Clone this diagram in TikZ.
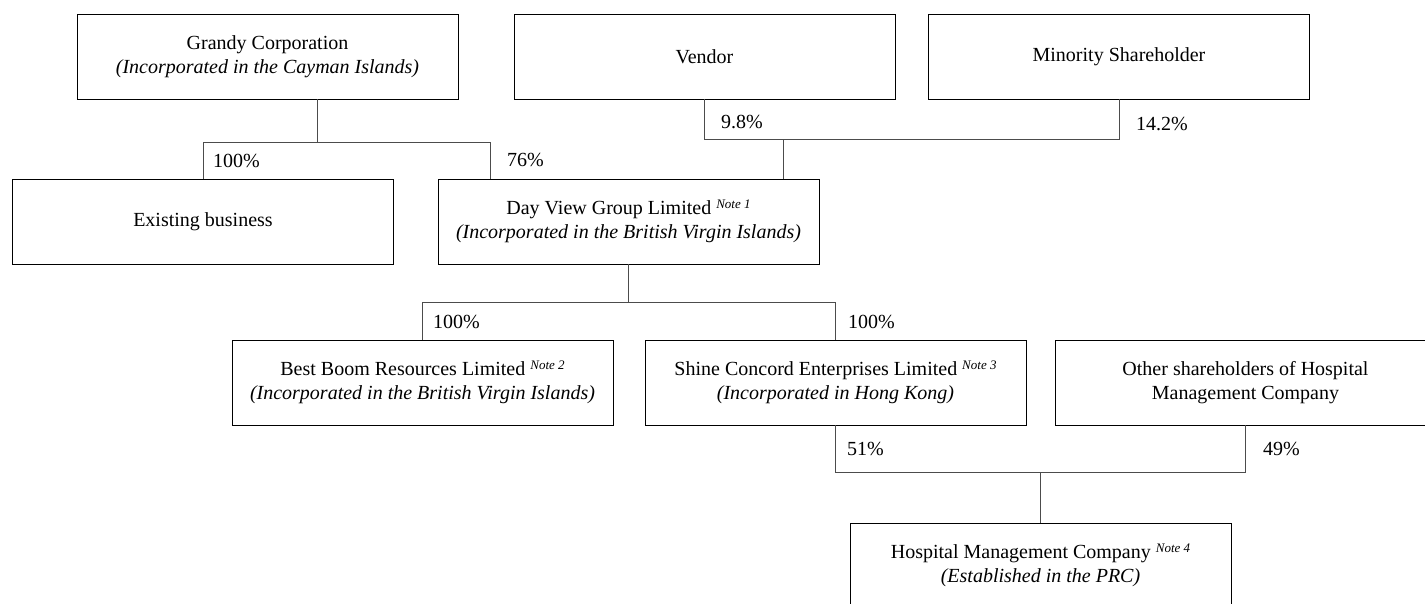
\documentclass[tikz,border=0pt]{standalone}
\usepackage{fontspec}
\setmainfont{Liberation Serif}
\usepackage{tikz}
\usetikzlibrary{positioning}

\newcommand{\notemark}[1]{\raisebox{6pt}{\fontsize{13}{13}\selectfont\itshape Note #1}}

\begin{document}
\begin{tikzpicture}[x=1pt,y=-1pt,
  company/.style={draw=black,line width=0.9pt,rectangle,minimum width=381pt,
    minimum height=85pt,align=center,inner sep=0pt,font=\fontsize{20}{24}\selectfont},
  share/.style={anchor=west,inner sep=0pt,font=\fontsize{20}{24}\selectfont},
  link/.style={draw=black!70,line width=0.9pt}]
\useasboundingbox (0,0) rectangle (1425,603);
%\fill[white] (0,0) rectangle (1425,603);
\node[company] (grandy) at (267.5,56.5) {Grandy Corporation\\\textit{(Incorporated in the Cayman Islands)}};
\node[company] (vendor) at (704.5,56.5) {Vendor};
\node[company] (minority) at (1119,56.5) {Minority Shareholder};
\node[company] (existing) at (203,221.5) {Existing business};
\node[company] (dayview) at (628.5,221.5) {Day View Group Limited \notemark{1}\\\textit{(Incorporated in the British Virgin Islands)}};
\node[company] (bestboom) at (422.5,382.5) {Best Boom Resources Limited \notemark{2}\\\textit{(Incorporated in the British Virgin Islands)}};
\node[company] (shine) at (835.5,382.5) {Shine Concord Enterprises Limited \notemark{3}\\\textit{(Incorporated in Hong Kong)}};
\node[company] (other) at (1245.5,382.5) {Other shareholders of Hospital\\Management Company};
\node[company] (hospital) at (1040.5,565.5) {Hospital Management Company \notemark{4}\\\textit{(Established in the PRC)}};
\coordinate (grout) at (317,99);
\coordinate (busA) at (317,142.5);
\coordinate (busB) at (783,139);
\coordinate (busC) at (628.5,302);
\coordinate (busD) at (1040.5,472);
\coordinate (dvleft) at (490,179);
\coordinate (dvright) at (783,179);
\draw[link] (grout) -- (busA);
\draw[link] (existing.north) |- (busA);
\draw[link] (dvleft) |- (busA);
\draw[link] (vendor.south) |- (busB);
\draw[link] (minority.south) |- (busB);
\draw[link] (busB) -- (dvright);
\draw[link] (dayview.south) -- (busC);
\draw[link] (bestboom.north) |- (busC);
\draw[link] (shine.north) |- (busC);
\draw[link] (shine.south) |- (busD);
\draw[link] (other.south) |- (busD);
\draw[link] (busD) -- (hospital.north);
\node[share] (pexist) at (213,161) {100\%};
\node[share] (pdv) at (507,160) {76\%};
\node[share] (pvendor) at (721,122) {9.8\%};
\node[share] (pminor) at (1136,124) {14.2\%};
\node[share] (pbest) at (433,322) {100\%};
\node[share] (pshine) at (848,322) {100\%};
\node[share] (phosp) at (847,449) {51\%};
\node[share] (pother) at (1263,449) {49\%};
\end{tikzpicture}
\end{document}
